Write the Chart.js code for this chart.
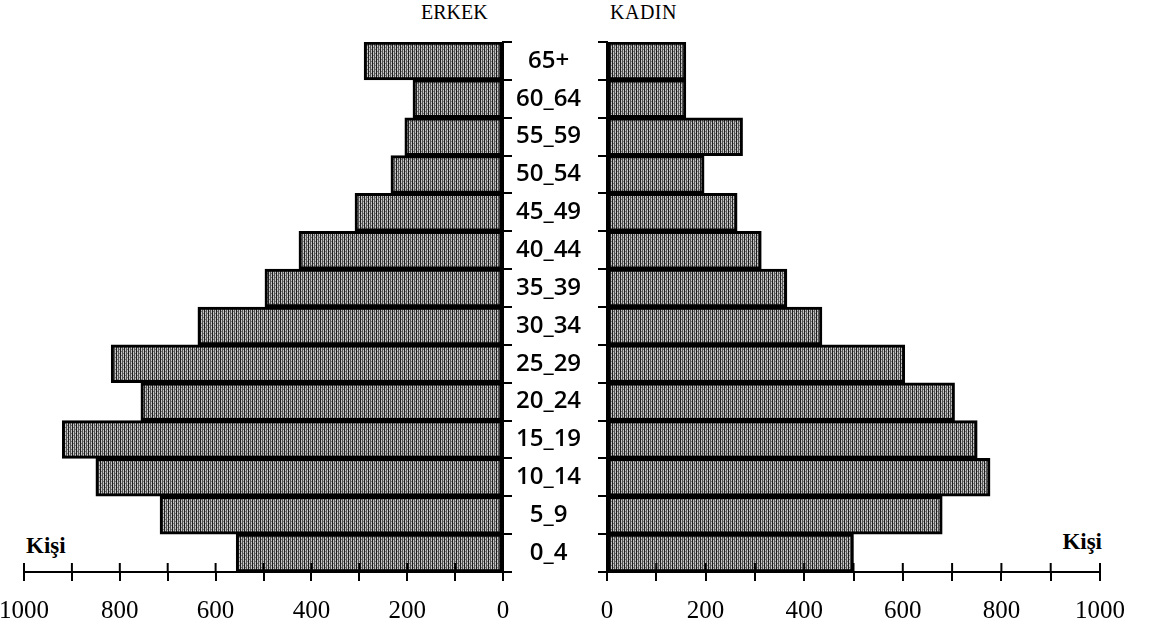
<!DOCTYPE html>
<html>
<head>
<meta charset="utf-8">
<script src="https://cdn.jsdelivr.net/npm/chart.js@4.4.1/dist/chart.umd.min.js"></script>
<style>
  html, body { margin: 0; padding: 0; background: #fff; }
  body { width: 1156px; height: 630px; position: relative; overflow: hidden; }
  canvas { position: absolute; top: 0; }
  #male { left: 0; }
  #female { left: 540px; }
  .txt { position: absolute; font-family: 'Liberation Serif', serif; color: #000; white-space: nowrap; line-height: 1; }
</style>
</head>
<body>
<div class="txt" style="left:421px; top:2px; font-size:20px;">ERKEK</div>
<div class="txt" style="left:610px; top:2px; font-size:20px; letter-spacing:0.5px;">KADIN</div>
<div class="txt" style="left:26px; top:534px; font-size:23px; font-weight:bold;">Kişi</div>
<div class="txt" style="right:54px; top:530px; font-size:23px; font-weight:bold;">Kişi</div>
<canvas id="male" width="607" height="630"></canvas>
<canvas id="female" width="616" height="630"></canvas>
<script>
const ageGroups = ['0_4', '5_9', '10_14', '15_19', '20_24', '25_29', '30_34', '35_39', '40_44', '45_49', '50_54', '55_59', '60_64', '65+'];
const maleValues = [557, 716, 850, 920, 756, 818, 637, 497, 426, 309, 234, 205, 188, 290];
const femaleValues = [500, 680, 777, 751, 705, 604, 436, 365, 313, 264, 197, 275, 160, 160];
const tickLabels = [0, 200, 400, 600, 800, 1000];

// scanned-looking grey hatch for the bars
function barPattern() {
  const c = document.createElement('canvas');
  c.width = 4; c.height = 4;
  const g = c.getContext('2d');
  g.fillStyle = '#c4c4c4'; g.fillRect(0, 0, 4, 4);
  g.fillStyle = '#1e1e1e'; g.fillRect(0, 0, 1, 4);
  g.fillStyle = '#555'; g.fillRect(2, 0, 1, 4);
  g.fillStyle = '#777'; g.fillRect(1, 3, 1, 1); g.fillRect(3, 1, 1, 1);
  return g.createPattern(c, 'repeat');
}

// x ticks cross the axis line: draw the upper half too
const crossTicks = {
  id: 'crossTicks',
  afterDatasetsDraw(chart) {
    const x = chart.scales.x, ctx = chart.ctx;
    ctx.save();
    ctx.strokeStyle = '#000';
    ctx.lineWidth = 2;
    x.ticks.forEach(t => {
      const px = x.getPixelForValue(t.value);
      ctx.beginPath();
      ctx.moveTo(px, x.top - 9);
      ctx.lineTo(px, x.top);
      ctx.stroke();
    });
    ctx.restore();
  }
};

function makeChart(id, values, left) {
  const ctx = document.getElementById(id).getContext('2d');
  return new Chart(ctx, {
    type: 'bar',
    data: {
      labels: ageGroups,
      datasets: [{
        data: values,
        backgroundColor: barPattern(),
        borderColor: '#000',
        borderWidth: 3,
        borderSkipped: false,
        barPercentage: 1,
        categoryPercentage: 1,
      }],
    },
    plugins: [crossTicks],
    options: {
      indexAxis: 'y',
      responsive: false,
      animation: false,
      layout: { padding: left ? { left: 24, top: 42, right: 0, bottom: 0 } : { left: 0, top: 42, right: 56, bottom: 0 } },
      plugins: { legend: { display: false }, tooltip: { enabled: false } },
      scales: {
        x: {
          type: 'linear',
          min: 0,
          max: 1000,
          reverse: left,
          z: 1,
          afterFit: s => { s.height = 58; },
          afterBuildTicks: s => { s.ticks = []; for (let v = 0; v <= 1000; v += 100) s.ticks.push({ value: v }); },
          grid: { drawOnChartArea: false, tickLength: 9, color: '#000', lineWidth: 2 },
          border: { display: true, color: '#000', width: 2 },
          ticks: {
            autoSkip: false,
            maxRotation: 0,
            padding: 15,
            color: '#000',
            font: { family: 'Liberation Serif', size: 25 },
            callback: v => tickLabels.includes(v) ? String(v) : '',
          },
        },
        y: {
          reverse: true,
          position: left ? 'right' : 'left',
          afterFit: s => { s.width = left ? 104 : 67; },
          grid: { drawOnChartArea: false, tickLength: 9, color: '#000', lineWidth: 2 },
          border: { display: true, color: '#000', width: 2 },
          ticks: {
            display: left,
            crossAlign: 'center',
            padding: 4,
            color: '#000',
            font: { family: 'Open Sans', size: 24, weight: '600' },
          },
        },
      },
    },
  });
}

makeChart('male', maleValues, true);
makeChart('female', femaleValues, false);
</script>
</body>
</html>
